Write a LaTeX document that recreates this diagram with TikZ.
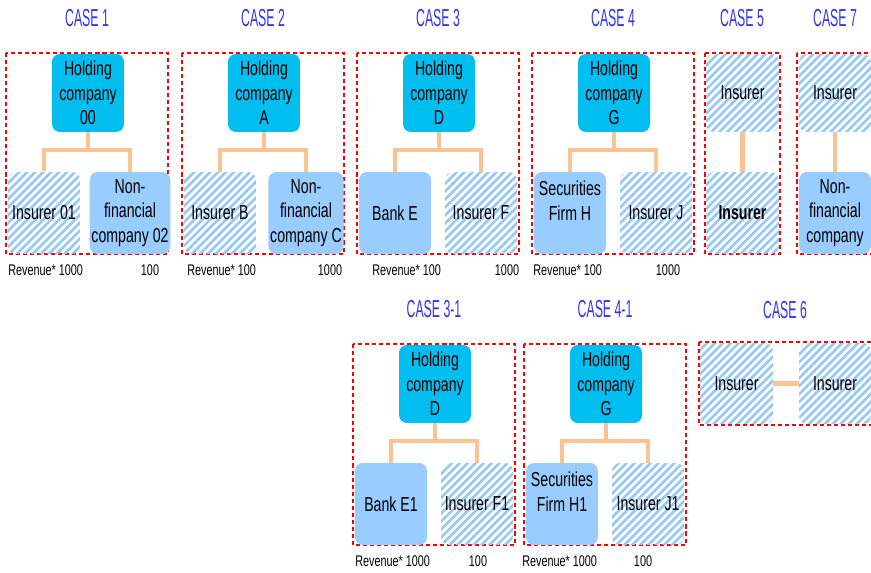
\documentclass[tikz,border=0pt]{standalone}
\usepackage{fontspec}
\setmainfont{Liberation Sans}[FakeStretch=0.7]
\newfontfamily\casefont{Liberation Sans}[FakeStretch=0.5]
\usetikzlibrary{patterns.meta}

\definecolor{holdblue}{RGB}{0,190,240}
\definecolor{firmblue}{RGB}{153,204,255}
\definecolor{hatchblue}{RGB}{150,200,245}
\definecolor{linkorange}{RGB}{250,195,145}
\definecolor{caseblue}{RGB}{51,51,255}

\begin{document}
\begin{tikzpicture}[
    x=0.02cm, y=-0.02cm,
    unit/.style={rounded corners=4.5pt, minimum width=1.44cm, minimum height=1.64cm, inner sep=1pt, align=center, font=\fontsize{11.5}{14}\selectfont},
    hold/.style={unit, fill=holdblue, minimum height=1.56cm},
    firm/.style={unit, fill=firmblue},
    ins/.style={unit, pattern={Lines[angle=45,distance=3.2pt,line width=1.5pt]}, pattern color=hatchblue},
    group/.style={draw=red, dash pattern=on 2.3pt off 1.7pt, line width=0.8pt},
    link/.style={draw=linkorange, line width=2.8pt},
    case/.style={text=caseblue, font=\casefont\fontsize{14}{16}\selectfont},
    rev/.style={inner sep=0pt, font=\fontsize{8.8}{10}\selectfont}
]
    \useasboundingbox (0,0) rectangle (871,573);

    % holding company cases
    \foreach \dx/\dy/\cnum/\hl/\lt/\ls/\rt/\rs/\ra/\rav/\rb/\rbv [count=\n] in {
        0/0/1/00/Insurer 01/ins/Non-\\financial\\company 02/firm/8/1000/150/100,
        176/0/2/A/Insurer B/ins/Non-\\financial\\company C/firm/11/100/154/1000,
        351/0/3/D/Bank E/firm/Insurer F/ins/21/100/156/1000,
        526/0/4/G/Securities\\Firm H\\\mbox{}/firm/Insurer J/ins/7/100/142/1000,
        347/291/3-1/D/Bank E1/firm/Insurer F1/ins/8/1000/131/100,
        518/291/4-1/G/Securities\\Firm H1\\\mbox{}/firm/Insurer J1/ins/4/1000/125/100} {
    \begin{scope}[shift={(\dx,\dy)}]
        \node[case] (t\n) at (87,18) {CASE \cnum};
        \draw[group] (6,53) rectangle (168,254);
        \node[hold] (h\n) at (88,93) {Holding\\company\\\hl};
        \node[\ls] (l\n) at (44,213) {\lt};
        \node[\rs] (r\n) at (130,213) {\rt};
        \coordinate (j\n) at (88,150);
        \draw[link] (h\n.south) -- (j\n);
        \draw[link] (l\n.north) |- (j\n) -| (r\n.north);
        \node[rev, anchor=west] (ra\n) at (\ra,270) {Revenue* \rav};
        \node[rev] (rb\n) at (\rb,270) {\rbv};
    \end{scope}
    }

    % case 5
    \node[case] (t7) at (742,18) {CASE 5};
    \draw[group] (705,53) rectangle (780,254);
    \node[ins, minimum width=1.46cm, minimum height=1.56cm] (i5a) at (742.5,93) {Insurer};
    \node[ins, minimum width=1.46cm] (i5b) at (742.5,213) {\bfseries Insurer};
    \draw[link] (i5a) -- (i5b);

    % case 7
    \node[case] (t8) at (835,18) {CASE 7};
    \draw[group] (797,53) rectangle (874,254);
    \node[ins, minimum height=1.56cm] (i7a) at (835,93) {Insurer};
    \node[firm] (f7b) at (835,213) {Non-\\financial\\company};
    \draw[link] (i7a) -- (f7b);

    % case 6
    \node[case] (t9) at (785,310) {CASE 6};
    \draw[group] (699,342) rectangle (874,425);
    \node[ins, minimum width=1.46cm, minimum height=1.62cm] (i6a) at (736.5,383.5) {Insurer};
    \node[ins, minimum height=1.62cm] (i6b) at (835,383.5) {Insurer};
    \draw[link] (i6a) -- (i6b);
\end{tikzpicture}
\end{document}
